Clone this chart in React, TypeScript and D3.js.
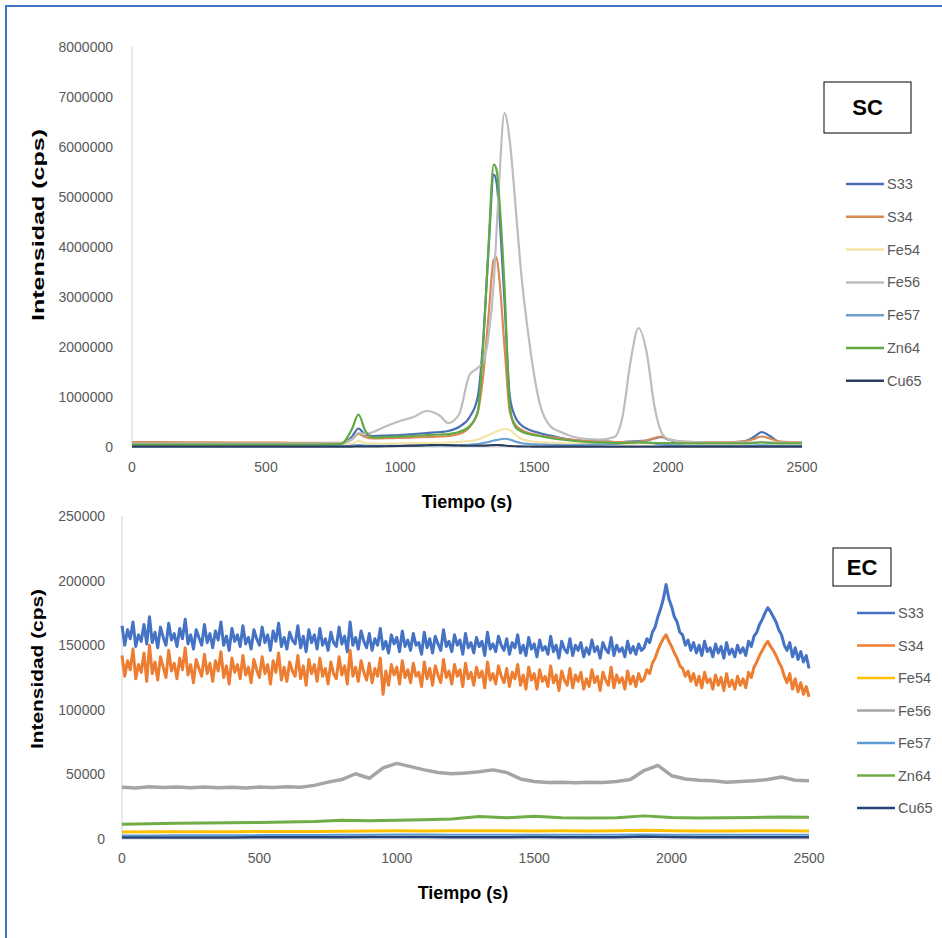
import React, { useEffect, useRef } from 'react'
import * as d3 from 'd3'

// series names, shared by both panels
const names = ['S33', 'S34', 'Fe54', 'Fe56', 'Fe57', 'Zn64', 'Cu65']

// colours (the SC panel looks washed out in the original)
const scColors = ['#4a70b4', '#d68a55', '#f4e4a6', '#bdbdbd', '#6a9fcf', '#62a845', '#2b3d5f']
const ecColors = ['#4472c4', '#ed7d31', '#ffc000', '#a5a5a5', '#5b9bd5', '#70ad47', '#264478']

// ---- SC panel ----
const scTicksY = [0, 1000000, 2000000, 3000000, 4000000, 5000000, 6000000, 7000000, 8000000]
const ticksX = [0, 500, 1000, 1500, 2000, 2500]

const scTime = [0, 200, 400, 600, 780, 820, 845, 870, 900, 950, 1000, 1050, 1100, 1150, 1180, 1220, 1260, 1290, 1310, 1330,
  1350, 1360, 1370, 1390, 1410, 1430, 1450, 1480, 1520, 1560, 1600, 1650, 1700, 1750, 1800, 1830, 1860, 1890, 1920, 1950,
  1975, 2000, 2050, 2100, 2200, 2280, 2320, 2350, 2380, 2420, 2500]

const scS33 = [70000, 70000, 65000, 65000, 70000, 200000, 370000, 250000, 220000, 230000, 240000, 260000, 280000, 300000, 320000,
  400000, 600000, 1000000, 2100000, 3900000, 5450000, 5300000, 4700000, 2900000, 1000000, 600000, 450000, 350000, 280000, 230000,
  180000, 140000, 120000, 110000, 100000, 100000, 110000, 120000, 130000, 170000, 200000, 150000, 100000, 90000, 90000, 110000,
  200000, 300000, 220000, 100000, 90000]
const scS34 = [100000, 95000, 90000, 85000, 85000, 150000, 260000, 200000, 170000, 175000, 180000, 190000, 200000, 210000, 220000,
  260000, 400000, 700000, 1400000, 2600000, 3750000, 3800000, 3400000, 2000000, 700000, 450000, 350000, 280000, 230000, 200000,
  170000, 140000, 120000, 110000, 100000, 100000, 100000, 110000, 130000, 180000, 210000, 160000, 110000, 100000, 100000, 110000,
  160000, 210000, 170000, 110000, 100000]
const scFe54 = [40000, 40000, 40000, 40000, 40000, 60000, 120000, 80000, 70000, 70000, 75000, 80000, 80000, 85000, 90000,
  100000, 120000, 150000, 190000, 240000, 290000, 310000, 330000, 360000, 340000, 250000, 170000, 120000, 100000, 90000,
  80000, 70000, 65000, 60000, 60000, 60000, 65000, 70000, 70000, 70000, 75000, 70000, 60000, 60000, 60000, 60000,
  80000, 110000, 90000, 60000, 60000]
const scFe56 = [70000, 70000, 70000, 70000, 75000, 150000, 280000, 260000, 300000, 420000, 520000, 600000, 720000, 620000, 480000,
  650000, 1450000, 1580000, 1700000, 2200000, 3300000, 4300000, 5300000, 6680000, 6100000, 4900000, 3600000, 2200000, 900000, 420000,
  300000, 200000, 160000, 150000, 200000, 600000, 1700000, 2380000, 1900000, 800000, 300000, 160000, 110000, 100000, 90000, 90000,
  95000, 100000, 95000, 90000, 90000]
const scFe57 = [20000, 20000, 20000, 20000, 20000, 25000, 40000, 30000, 25000, 25000, 25000, 25000, 30000, 30000, 30000,
  35000, 45000, 60000, 80000, 100000, 130000, 140000, 150000, 165000, 150000, 110000, 80000, 60000, 50000, 45000,
  40000, 40000, 45000, 50000, 60000, 70000, 90000, 100000, 95000, 70000, 50000, 40000, 30000, 25000, 25000, 25000,
  28000, 35000, 30000, 25000, 25000]
const scZn64 = [50000, 50000, 50000, 50000, 60000, 350000, 650000, 330000, 190000, 200000, 210000, 220000, 240000, 250000, 260000,
  300000, 420000, 700000, 2000000, 4000000, 5650000, 5550000, 5000000, 3200000, 800000, 400000, 320000, 260000, 220000, 180000,
  150000, 120000, 100000, 90000, 80000, 80000, 85000, 90000, 85000, 80000, 80000, 80000, 75000, 75000, 75000, 75000,
  80000, 90000, 80000, 75000, 75000]
const scCu65 = [8000, 8000, 8000, 8000, 8000, 9000, 12000, 10000, 12000, 15000, 20000, 28000, 35000, 40000, 38000,
  30000, 25000, 25000, 28000, 32000, 38000, 40000, 38000, 30000, 20000, 15000, 12000, 10000, 8000, 8000,
  8000, 8000, 8000, 8000, 8000, 8000, 8000, 8000, 8000, 8000, 8000, 8000, 8000, 8000, 8000, 8000,
  8000, 8000, 8000, 8000, 8000]

// ---- EC panel ----
const ecTicksY = [0, 50000, 100000, 150000, 200000, 250000]
const ecTimeFine = d3.range(0, 2501, 10)
const ecTimeMid = d3.range(0, 2501, 50)
const ecTimeCoarse = d3.range(0, 2501, 100)

// one row = 100 s
const ecS33 = [
  165e3, 150e3, 162e3, 155e3, 168e3, 149e3, 158e3, 153e3, 166e3, 151e3,
  172e3, 152e3, 160e3, 148e3, 164e3, 156e3, 150e3, 167e3, 154e3, 159e3,
  149e3, 163e3, 155e3, 170e3, 151e3, 158e3, 147e3, 162e3, 156e3, 150e3,
  166e3, 152e3, 159e3, 148e3, 161e3, 154e3, 168e3, 150e3, 157e3, 146e3,
  163e3, 153e3, 158e3, 149e3, 165e3, 151e3, 156e3, 147e3, 162e3, 155e3,
  150e3, 164e3, 152e3, 158e3, 146e3, 161e3, 153e3, 167e3, 149e3, 156e3,
  147e3, 160e3, 154e3, 151e3, 165e3, 148e3, 157e3, 145e3, 162e3, 152e3,
  158e3, 147e3, 163e3, 150e3, 155e3, 146e3, 160e3, 152e3, 149e3, 164e3,
  151e3, 157e3, 145e3, 168e3, 150e3, 156e3, 147e3, 161e3, 153e3, 148e3,
  159e3, 146e3, 155e3, 150e3, 163e3, 147e3, 153e3, 144e3, 158e3, 151e3,
  156e3, 145e3, 161e3, 149e3, 154e3, 146e3, 159e3, 150e3, 152e3, 143e3,
  160e3, 148e3, 155e3, 144e3, 157e3, 151e3, 146e3, 162e3, 149e3, 153e3,
  145e3, 158e3, 150e3, 154e3, 143e3, 159e3, 148e3, 152e3, 144e3, 156e3,
  149e3, 153e3, 142e3, 160e3, 147e3, 151e3, 145e3, 157e3, 150e3, 146e3,
  155e3, 143e3, 152e3, 148e3, 158e3, 144e3, 150e3, 142e3, 156e3, 147e3,
  151e3, 141e3, 154e3, 146e3, 149e3, 143e3, 157e3, 145e3, 150e3, 140e3,
  153e3, 147e3, 144e3, 155e3, 142e3, 150e3, 146e3, 152e3, 141e3, 148e3,
  143e3, 154e3, 145e3, 149e3, 140e3, 152e3, 147e3, 144e3, 156e3, 142e3,
  150e3, 145e3, 148e3, 141e3, 153e3, 144e3, 149e3, 143e3, 151e3, 146e3,
  148e3, 155e3, 152e3, 160e3, 164e3, 172e3, 178e3, 186e3, 197e3, 186e3,
  180e3, 172e3, 168e3, 160e3, 158e3, 150e3, 154e3, 146e3, 152e3, 144e3,
  150e3, 142e3, 153e3, 145e3, 148e3, 141e3, 151e3, 144e3, 149e3, 140e3,
  152e3, 143e3, 147e3, 141e3, 150e3, 144e3, 148e3, 142e3, 153e3, 149e3,
  157e3, 160e3, 166e3, 170e3, 175e3, 179e3, 176e3, 172e3, 168e3, 162e3,
  158e3, 150e3, 146e3, 152e3, 141e3, 148e3, 139e3, 145e3, 137e3, 142e3,
  132e3]
const ecS34 = [
  142e3, 126e3, 138e3, 131e3, 147e3, 124e3, 135e3, 129e3, 144e3, 122e3,
  150e3, 128e3, 137e3, 123e3, 141e3, 133e3, 125e3, 146e3, 130e3, 136e3,
  124e3, 140e3, 131e3, 148e3, 127e3, 135e3, 121e3, 139e3, 132e3, 126e3,
  143e3, 128e3, 136e3, 122e3, 138e3, 130e3, 145e3, 125e3, 134e3, 120e3,
  140e3, 129e3, 135e3, 124e3, 142e3, 127e3, 133e3, 121e3, 139e3, 131e3,
  125e3, 141e3, 128e3, 135e3, 120e3, 138e3, 129e3, 144e3, 123e3, 133e3,
  122e3, 137e3, 130e3, 126e3, 142e3, 124e3, 134e3, 119e3, 139e3, 128e3,
  135e3, 122e3, 140e3, 126e3, 132e3, 120e3, 137e3, 128e3, 124e3, 141e3,
  127e3, 134e3, 120e3, 146e3, 126e3, 133e3, 122e3, 138e3, 129e3, 123e3,
  136e3, 121e3, 132e3, 126e3, 140e3, 112e3, 130e3, 119e3, 135e3, 127e3,
  133e3, 120e3, 138e3, 125e3, 131e3, 121e3, 136e3, 126e3, 129e3, 118e3,
  137e3, 124e3, 132e3, 119e3, 134e3, 127e3, 121e3, 139e3, 125e3, 130e3,
  120e3, 135e3, 126e3, 131e3, 118e3, 136e3, 124e3, 129e3, 119e3, 133e3,
  125e3, 130e3, 117e3, 137e3, 123e3, 128e3, 120e3, 134e3, 126e3, 121e3,
  132e3, 118e3, 129e3, 124e3, 135e3, 119e3, 127e3, 116e3, 133e3, 123e3,
  128e3, 116e3, 131e3, 122e3, 126e3, 118e3, 134e3, 121e3, 127e3, 115e3,
  130e3, 123e3, 119e3, 132e3, 117e3, 127e3, 122e3, 129e3, 116e3, 124e3,
  118e3, 131e3, 121e3, 126e3, 115e3, 129e3, 123e3, 119e3, 133e3, 117e3,
  127e3, 121e3, 125e3, 116e3, 130e3, 120e3, 126e3, 118e3, 128e3, 122e3,
  124e3, 131e3, 128e3, 136e3, 140e3, 146e3, 151e3, 155e3, 158e3, 153e3,
  149e3, 144e3, 140e3, 134e3, 132e3, 126e3, 130e3, 122e3, 128e3, 119e3,
  126e3, 117e3, 129e3, 121e3, 124e3, 116e3, 127e3, 119e3, 125e3, 115e3,
  128e3, 118e3, 123e3, 116e3, 126e3, 119e3, 124e3, 117e3, 129e3, 125e3,
  133e3, 137e3, 142e3, 146e3, 150e3, 153e3, 149e3, 146e3, 142e3, 137e3,
  133e3, 126e3, 121e3, 128e3, 116e3, 124e3, 114e3, 121e3, 112e3, 118e3,
  110e3]
const ecFe56 = [40000, 39500, 40500, 39800, 40200, 39600, 40300, 39700, 40100, 39500, 40200, 39900, 40400, 40000, 41500, 44000,
  46000, 50500, 47000, 55000, 58500, 56000, 53500, 51500, 50500, 51000, 52000, 53500, 51500, 46500, 44500, 43800, 44000, 43500,
  44000, 43800, 44500, 46000, 53000, 57000, 49000, 46500, 45500, 45000, 44000, 44500, 45000, 46000, 48000, 45500, 45000]
const ecFe54 = [5500, 5600, 5600, 5700, 5700, 5800, 5800, 5900, 6000, 6200, 6300, 6200, 6300, 6400, 6300, 6200, 6300, 6200,
  6300, 6800, 6400, 6200, 6200, 6300, 6300, 6200]
const ecFe57 = [2800, 2800, 2900, 2900, 2900, 3000, 3000, 3000, 3200, 3300, 3400, 3400, 3300, 3300, 3300, 3200, 3200, 3200,
  3300, 3500, 3300, 3200, 3200, 3200, 3200, 3200]
const ecZn64 = [11500, 11800, 12100, 12400, 12600, 12800, 13100, 13500, 14500, 14200, 14500, 14900, 15400, 17500, 16400, 17600,
  16400, 16200, 16500, 17900, 16600, 16300, 16500, 16700, 17100, 16900]
const ecCu65 = [1200, 1200, 1200, 1200, 1200, 1300, 1300, 1300, 1400, 1500, 1500, 1500, 1400, 1400, 1300, 1500, 1400, 1300,
  1400, 2000, 1500, 1300, 1300, 1300, 1300, 1300]

type Series = { time: number[]; values: number[]; width: number; smooth: boolean }

type Panel = {
  left: number; right: number; top: number; bottom: number
  yMax: number; yTicks: number[]
  yLabelX: number; yTitleX: number; yTitleY: number; yTitleLen: number
  xLabelY: number; xTitleY: number; xTitleX: number
  box: { x: number; y: number; w: number; h: number; text: string }
  legend: { x1: number; x2: number; y0: number; step: number }
  colors: string[]
  series: Series[]
}

const GREY = '#595959'

function drawPanel(svg: d3.Selection<SVGSVGElement, unknown, null, undefined>, p: Panel) {
  const x = d3.scaleLinear().domain([0, 2500]).range([p.left, p.right])
  const y = d3.scaleLinear().domain([0, p.yMax]).range([p.bottom, p.top])
  const g = svg.append('g')

  g.append('line')
    .attr('x1', p.left).attr('x2', p.left)
    .attr('y1', p.top).attr('y2', p.bottom)
    .attr('stroke', '#d0d0d0')
  g.append('line')
    .attr('x1', p.left).attr('x2', p.right)
    .attr('y1', p.bottom).attr('y2', p.bottom)
    .attr('stroke', '#d0d0d0')

  g.selectAll('text.ytick')
    .data(p.yTicks)
    .enter()
    .append('text')
      .attr('class', 'ytick')
      .attr('x', p.yLabelX)
      .attr('y', d => y(d))
      .attr('dy', '0.35em')
      .attr('text-anchor', 'end')
      .attr('font-size', 14)
      .attr('fill', GREY)
      .text(d => d3.format('d')(d))

  g.selectAll('text.xtick')
    .data(ticksX)
    .enter()
    .append('text')
      .attr('class', 'xtick')
      .attr('x', d => x(d))
      .attr('y', p.xLabelY)
      .attr('dy', '0.35em')
      .attr('text-anchor', 'middle')
      .attr('font-size', 14)
      .attr('fill', GREY)
      .text(d => d)

  p.series.forEach((s, i) => {
    const line = d3.line<number>()
      .x((d, j) => x(s.time[j]))
      .y(d => y(d))
      .curve(s.smooth ? d3.curveMonotoneX : d3.curveLinear)
    g.append('path')
      .attr('d', line(s.values))
      .attr('fill', 'none')
      .attr('stroke', p.colors[i])
      .attr('stroke-width', s.width)
      .attr('stroke-linejoin', 'round')
  })

  g.append('text')
    .attr('transform', `translate(${p.yTitleX},${p.yTitleY}) rotate(-90)`)
    .attr('text-anchor', 'middle')
    .attr('dy', '0.35em')
    .attr('font-size', 16)
    .attr('font-weight', 'bold')
    .attr('fill', '#000')
    .attr('textLength', p.yTitleLen)
    .attr('lengthAdjust', 'spacingAndGlyphs')
    .text('Intensidad (cps)')

  g.append('text')
    .attr('x', p.xTitleX)
    .attr('y', p.xTitleY)
    .attr('dy', '0.35em')
    .attr('text-anchor', 'middle')
    .attr('font-size', 18)
    .attr('font-weight', 'bold')
    .attr('fill', '#000')
    .text('Tiempo (s)')

  g.append('rect')
    .attr('x', p.box.x).attr('y', p.box.y)
    .attr('width', p.box.w).attr('height', p.box.h)
    .attr('fill', '#fff')
    .attr('stroke', '#000')
  g.append('text')
    .attr('x', p.box.x + p.box.w / 2)
    .attr('y', p.box.y + p.box.h / 2)
    .attr('dy', '0.35em')
    .attr('text-anchor', 'middle')
    .attr('font-size', 22)
    .attr('font-weight', 'bold')
    .text(p.box.text)

  const leg = g.selectAll('g.leg')
    .data(names)
    .enter()
    .append('g')
      .attr('class', 'leg')
      .attr('transform', (d, i) => `translate(0,${p.legend.y0 + i * p.legend.step})`)
  leg.append('line')
    .attr('x1', p.legend.x1).attr('x2', p.legend.x2)
    .attr('stroke', (d, i) => p.colors[i])
    .attr('stroke-width', 2.5)
  leg.append('text')
    .attr('x', p.legend.x2 + 3)
    .attr('dy', '0.35em')
    .attr('font-size', 14.5)
    .attr('fill', GREY)
    .text(d => d)
}

export default function App() {
  const ref = useRef<SVGSVGElement>(null)

  useEffect(() => {
    const svg = d3.select(ref.current as SVGSVGElement)
    svg.selectAll('*').remove()

    // outer frame (only left and top edges show)
    svg.append('path')
      .attr('d', 'M6,938 L6,6 L942,6')
      .attr('fill', 'none')
      .attr('stroke', '#4472c4')
      .attr('stroke-width', 2)

    const scVals = [scS33, scS34, scFe54, scFe56, scFe57, scZn64, scCu65]
    drawPanel(svg, {
      left: 132, right: 802, top: 47, bottom: 447,
      yMax: 8000000, yTicks: scTicksY,
      yLabelX: 113, yTitleX: 38, yTitleY: 225, yTitleLen: 192,
      xLabelY: 467, xTitleY: 502, xTitleX: 467,
      box: { x: 824, y: 82, w: 87, h: 51, text: 'SC' },
      legend: { x1: 846, x2: 884, y0: 184, step: 32.8 },
      colors: scColors,
      series: scVals.map(v => ({ time: scTime, values: v, width: 2.2, smooth: true }))
    })

    drawPanel(svg, {
      left: 122, right: 809, top: 516, bottom: 839,
      yMax: 250000, yTicks: ecTicksY,
      yLabelX: 105, yTitleX: 37, yTitleY: 669, yTitleLen: 160,
      xLabelY: 858, xTitleY: 893, xTitleX: 463,
      box: { x: 833, y: 548, w: 58, h: 38, text: 'EC' },
      legend: { x1: 857, x2: 895, y0: 613, step: 32.5 },
      colors: ecColors,
      series: [
        { time: ecTimeFine, values: ecS33, width: 3, smooth: false },
        { time: ecTimeFine, values: ecS34, width: 3, smooth: false },
        { time: ecTimeCoarse, values: ecFe54, width: 3, smooth: false },
        { time: ecTimeMid, values: ecFe56, width: 3.5, smooth: false },
        { time: ecTimeCoarse, values: ecFe57, width: 2, smooth: false },
        { time: ecTimeCoarse, values: ecZn64, width: 3, smooth: false },
        { time: ecTimeCoarse, values: ecCu65, width: 2.5, smooth: false }
      ]
    })
  }, [])

  return (
    <div style={{ position: 'absolute', left: 0, top: 0, background: '#fff' }}>
      <svg ref={ref} width={942} height={938} style={{ display: 'block', fontFamily: "'Liberation Sans', Arial, sans-serif" }} />
    </div>
  )
}
